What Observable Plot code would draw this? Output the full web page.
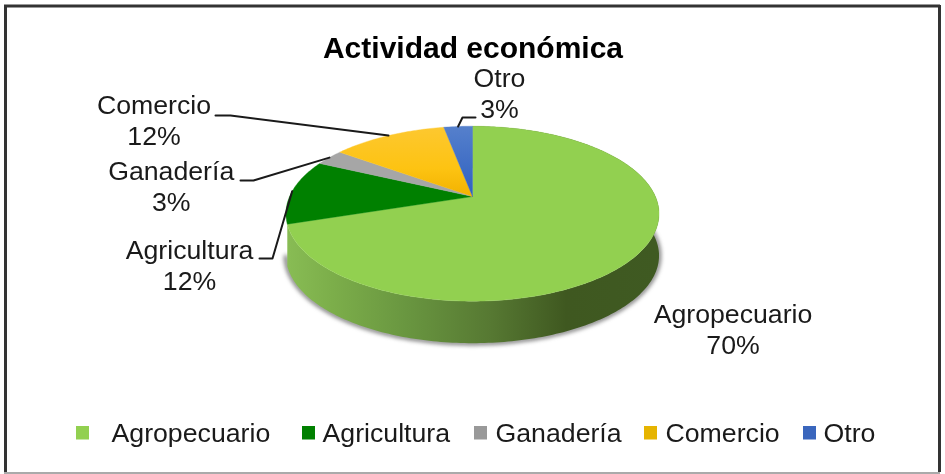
<!DOCTYPE html>
<html>
<head>
<meta charset="utf-8">
<script src="https://cdn.jsdelivr.net/npm/d3@7"></script>
<script src="https://cdn.jsdelivr.net/npm/@observablehq/plot@0.6"></script>
<style>
html,body{margin:0;padding:0;background:#fff;overflow:hidden}
svg{display:block;filter:blur(0.45px)}
</style>
</head>
<body>
<div id="chart"></div>
<script>
const title = "Actividad económica";
const categories = ["Agropecuario", "Agricultura", "Ganadería", "Comercio", "Otro"];
const values = [70, 12, 3, 12, 3];
const colors = ["#92d050", "#008000", "#a6a6a6", "url(#goldFill)", "url(#blueFill)"];
const swatchColors = ["#92d050", "#008000", "#999999", "#e6b400", "#3a66bd"];

// layout, in page pixels
const W = 945, H = 474;
const pivot = {x: 472, y: 196};
const disk = {c: 182.9, a: 84.1, p: -0.1966, depth: 42};
const labelX = [732.5, 189, 170.7, 153.5, 499];
const labelY = [328.5, 264, 185.5, 119.5, 92.5];
const leaderStart = [null, [259, 258], [240, 180], [215, 115], [475, 117]];
const leaderKnee = [null, [272, 258], [253, 180], [230, 115], [462, 117]];
const legendSwatchX = [76, 302, 474, 644, 803];
const legendTextX = [111, 322, 495, 665, 823];

// a point on the disk's rim, at a clockwise angle from the top, in perspective
function rim(deg, drop = 0) {
  const t = deg * Math.PI / 180, u = Math.sin(t), v = -Math.cos(t), w = 1 + disk.p * v;
  return {x: pivot.x + disk.c * u / w, y: pivot.y + disk.a * v / w + drop};
}
function arc(a0, a1, drop = 0) {
  const n = Math.max(2, Math.ceil(Math.abs(a1 - a0)));
  return d3.range(n + 1).map(i => rim(a0 + (a1 - a0) * i / n, drop));
}

const total = d3.sum(values);
let acc = 0;
const slices = categories.map((name, i) => {
  const a0 = acc * 360 / total;
  acc += values[i];
  const a1 = acc * 360 / total;
  return {name, value: values[i], a0, a1, mid: (a0 + a1) / 2, fill: colors[i]};
});

const wallEnd = slices[0].a1;
const wallPts = [...arc(0, wallEnd), ...arc(wallEnd, 0, disk.depth)];
const shadowPts = arc(60, wallEnd + 6, disk.depth);

const defs = () => {
  const d = d3.create("svg:defs");
  const lg = (id, attrs, stops) => {
    const g = d.append("linearGradient").attr("id", id).attr("gradientUnits", "userSpaceOnUse");
    Object.entries(attrs).forEach(([k, v]) => g.attr(k, v));
    stops.forEach(([o, c]) => g.append("stop").attr("offset", o).attr("stop-color", c));
  };
  lg("wallFill", {x1: 287, x2: 659, y1: 0, y2: 0}, [
    [0, "#88bc54"], [0.12, "#7cae4a"], [0.32, "#699640"], [0.55, "#567832"],
    [0.75, "#3f5820"], [1, "#3f5a22"]]);
  lg("goldFill", {x1: 0, x2: 0, y1: 126, y2: 196}, [[0, "#fdc830"], [0.6, "#fdc312"], [1, "#f2b200"]]);
  lg("blueFill", {x1: 0, x2: 0, y1: 126, y2: 196}, [[0, "#5580cc"], [1, "#2f60c0"]]);
  return d.node();
};

const marks = [
  defs,
  Plot.line(shadowPts, {x: "x", y: "y", stroke: "#444", strokeWidth: 4, strokeOpacity: 0.75, imageFilter: "blur(2px)"}),
  Plot.line(wallPts, {x: "x", y: "y", fill: "url(#wallFill)", stroke: "none"})
];
slices.forEach(s => {
  marks.push(Plot.line([pivot, ...arc(s.a0, s.a1), pivot], {
    x: "x", y: "y", fill: s.fill, stroke: s.fill, strokeWidth: 0.4
  }));
});
slices.forEach((s, i) => {
  if (!leaderStart[i]) return;
  const p = rim(s.mid);
  const pts = [leaderStart[i], leaderKnee[i], [p.x, p.y]].map(([x, y]) => ({x, y}));
  marks.push(Plot.line(pts, {x: "x", y: "y", stroke: "#1a1a1a", strokeWidth: 2}));
});

const labelRows = slices.map((s, i) => ({text: `${s.name}\n${s.value}%`, x: labelX[i], y: labelY[i]}));
const legendRows = categories.map((name, i) => ({
  name, x: legendTextX[i], x1: legendSwatchX[i], x2: legendSwatchX[i] + 13, color: swatchColors[i]
}));
const textFont = {fontFamily: "Liberation Sans, Arial, sans-serif", fontSize: 26.7, fill: "#1a1a1a"};

marks.push(
  Plot.text([title], {x: () => 472.5, y: () => 48, text: d => d, fontFamily: textFont.fontFamily, fontWeight: "bold", fontSize: 30, fill: "#000"}),
  Plot.text(labelRows, {x: "x", y: "y", text: "text", lineHeight: 1.15, textAnchor: "middle", ...textFont}),
  Plot.rect(legendRows, {x1: "x1", x2: "x2", y1: () => 426, y2: () => 439.5, fill: "color"}),
  Plot.text(legendRows, {x: "x", y: () => 433, text: "name", textAnchor: "start", ...textFont}),
  // the outer frame
  Plot.ruleX([5], {y1: 5, y2: 472, stroke: "#333", strokeWidth: 3}),
  Plot.ruleX([939], {y1: 5, y2: 472, stroke: "#333", strokeWidth: 3}),
  Plot.ruleY([5.5], {x1: 4, x2: 940, stroke: "#333", strokeWidth: 3}),
  Plot.ruleY([472.5], {x1: 4, x2: 940, stroke: "#aaaaaa", strokeWidth: 2})
);

const plot = Plot.plot({
  width: W, height: H,
  margin: 0,
  x: {domain: [0, W], range: [0, W], axis: null},
  y: {domain: [0, H], range: [0, H], axis: null},
  style: {background: "#fff", overflow: "visible"},
  marks
});
document.getElementById("chart").append(plot);
</script>
</body>
</html>
